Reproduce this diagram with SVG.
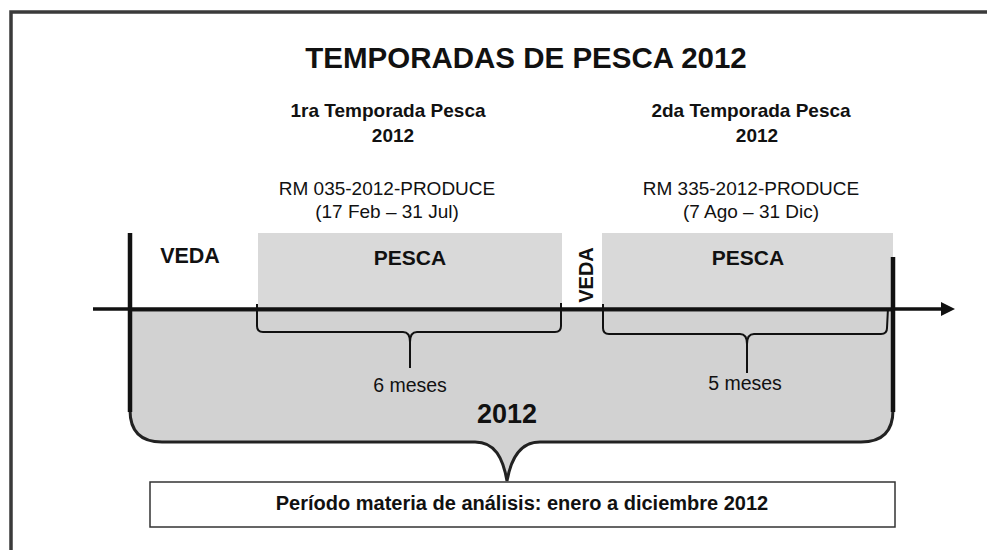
<svg xmlns="http://www.w3.org/2000/svg" width="987" height="550" viewBox="0 0 987 550">
<defs>
<style>
text{font-family:"Liberation Sans",Arial,sans-serif;fill:#111}
.b{font-weight:bold}
.mid{text-anchor:middle}
.frame{fill:none;stroke:#3a3a3a;stroke-width:3.5}
.shade{fill:#d9d9d9}
.blob{fill:#d2d2d2;stroke:#222;stroke-width:3}
.bar{stroke:#111;stroke-width:4.5}
.axis{stroke:#111;stroke-width:3.5}
.brace{fill:none;stroke:#111;stroke-width:2}
.box{fill:#fff;stroke:#333;stroke-width:1.5}
</style>
<marker id="arr" viewBox="0 0 14 14" refX="2" refY="7" markerWidth="14" markerHeight="14" markerUnits="userSpaceOnUse" orient="auto">
<path d="M0,0 L14,7 L0,14 Z" fill="#111"/>
</marker>
</defs>
<rect width="987" height="550" fill="#fff"/>
<path class="frame" d="M11,550 L11,12 L987,12"/>

<g id="title"><text class="b mid" x="526" y="68" font-size="29.5">TEMPORADAS DE PESCA 2012</text></g>

<g id="season1-label">
<text class="b mid" x="388" y="117" font-size="19">1ra Temporada Pesca</text>
<text class="b mid" x="393" y="142" font-size="19">2012</text>
<text class="mid" x="387" y="195" font-size="19">RM 035-2012-PRODUCE</text>
<text class="mid" x="387" y="218" font-size="19">(17 Feb – 31 Jul)</text>
</g>
<g id="season2-label">
<text class="b mid" x="751" y="117" font-size="19">2da Temporada Pesca</text>
<text class="b mid" x="757" y="142" font-size="19">2012</text>
<text class="mid" x="751" y="195" font-size="19">RM 335-2012-PRODUCE</text>
<text class="mid" x="751" y="218" font-size="19">(7 Ago – 31 Dic)</text>
</g>

<g id="year-2012">
<path class="blob" d="M130,310 L130,410 Q130,442 162,442 L475,442 C495,442 503,458 507,481 C511,458 520,442 540,442 L861,442 Q893,442 893,410 L893,310 Z"/>
<text class="b mid" x="507" y="423" font-size="27">2012</text>
</g>

<g id="veda1"><text class="b mid" x="190" y="263" font-size="21.5">VEDA</text></g>
<g id="pesca1">
<rect class="shade" x="258" y="233" width="304" height="77"/>
<text class="b mid" x="410" y="265" font-size="21">PESCA</text>
</g>
<g id="veda2"><text class="b mid" x="0" y="0" font-size="20" transform="translate(593,275) rotate(-90)">VEDA</text></g>
<g id="pesca2">
<rect class="shade" x="602" y="233" width="291" height="77"/>
<text class="b mid" x="748" y="265" font-size="21">PESCA</text>
</g>

<g id="connectors">
<line class="axis" x1="93" y1="309" x2="943" y2="309" marker-end="url(#arr)"/>
<line class="bar" x1="130" y1="233" x2="130" y2="412"/>
<line class="bar" x1="893" y1="257" x2="893" y2="412"/>
<path class="brace" d="M257,304 L257,326 Q257,332 263,332 L403,332 Q410,332 410,342 L410,368 M410,342 Q410,332 417,332 L555,332 Q561,332 561,326 L561,303"/>
<path class="brace" d="M603,304 L603,328 Q603,334 609,334 L740,334 Q747,334 747,344 L747,373 M747,344 Q747,334 754,334 L881,334 Q887,334 887,328 L888,308"/>
</g>

<g id="months1"><text class="mid" x="410" y="392" font-size="19.5">6 meses</text></g>
<g id="months2"><text class="mid" x="745" y="390" font-size="19.5">5 meses</text></g>

<g id="period">
<rect class="box" x="150" y="482" width="745" height="45"/>
<text class="b mid" x="522" y="510" font-size="20">Período materia de análisis: enero a diciembre 2012</text>
</g>
</svg>
